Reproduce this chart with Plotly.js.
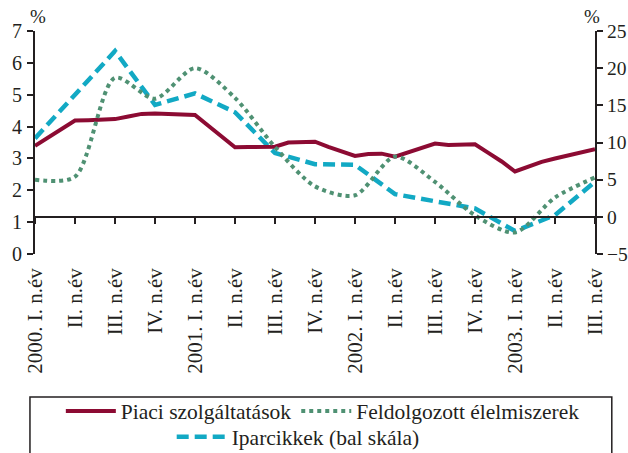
<!DOCTYPE html>
<html>
<head>
<meta charset="utf-8">
<script src="https://cdn.plot.ly/plotly-3.0.1.min.js"></script>
<style>html,body{margin:0;padding:0;background:#fff;}#chart{width:628px;height:453px;}</style>
</head>
<body>
<div id="chart"></div>
<script>
// Quarter tick labels (x axis)
var quarterLabels = ["2000. I. n.év","II. n.év","III. n.év","IV. n.év","2001. I. n.év","II. n.év","III. n.év","IV. n.év","2002. I. n.év","II. n.év","III. n.év","IV. n.év","2003. I. n.év","II. n.év","III. n.év"];
// Piaci szolgáltatások – monthly, right scale (%)
var piaci = [9.56,10.7,11.9,12.95,13.0,13.05,13.15,13.5,13.85,13.9,13.85,13.8,13.7,12.25,10.8,9.35,9.38,9.4,9.43,10.0,10.05,10.1,9.4,8.8,8.2,8.45,8.5,8.1,8.7,9.3,9.85,9.65,9.7,9.75,8.6,7.45,6.1,6.8,7.4,7.85,8.3,8.7,9.1];
// Feldolgozott élelmiszerek – quarterly, right scale (%)
var feldolgozott = [5.0,5.4,18.7,15.9,20.0,16.0,9.4,4.1,2.9,8.1,4.7,0.2,-2.1,2.6,5.3];
// Iparcikkek – quarterly, left scale (%)
var iparcikkek = [3.63,5.0,6.37,4.68,5.04,4.45,3.17,2.82,2.8,1.88,1.67,1.43,0.72,1.22,2.27];

var monthsX = piaci.map(function(_, i){ return i; });
var quarterX = quarterLabels.map(function(_, i){ return i * 3; });

var FONT = "'Liberation Serif', 'Times New Roman', Times, 'DejaVu Serif', serif";
var AX = "#231f20";

var traces = [
  {x: quarterX, y: iparcikkek, name: "Iparcikkek (bal skála)", type: "scatter", mode: "lines",
   yaxis: "y", legend: "legend2",
   line: {color: "#12a9c4", width: 4.5, dash: "12px,6px"}},
  {x: monthsX, y: piaci, name: "Piaci szolgáltatások", type: "scatter", mode: "lines",
   yaxis: "y2", legend: "legend",
   line: {color: "#8c0b33", width: 4}},
  {x: quarterX, y: feldolgozott, name: "Feldolgozott élelmiszerek", type: "scatter", mode: "lines",
   yaxis: "y2", legend: "legend",
   line: {color: "#4f9173", width: 4, dash: "dot", shape: "spline", smoothing: 0.8}}
];

var layout = {
  width: 628, height: 453,
  margin: {l: 35, r: 33, t: 31, b: 199, pad: 0, autoexpand: false},
  paper_bgcolor: "#fff", plot_bgcolor: "#fff",
  font: {family: FONT, size: 21, color: AX},
  showlegend: true,
  xaxis: {
    range: [0, 42], tickvals: quarterX, ticktext: quarterLabels,
    tickangle: -90, ticks: "outside", ticklen: 6, tickwidth: 2, tickcolor: AX,
    showline: true, linecolor: AX, linewidth: 2, showgrid: false, zeroline: false,
    anchor: "free", position: 1.1666667/7, ticklabelstandoff: 36,
    tickfont: {family: FONT, size: 21, color: AX}
  },
  yaxis: {
    range: [0, 7], dtick: 1, tick0: 0, ticks: "outside", ticklen: 6, tickwidth: 2, tickcolor: AX,
    showline: true, linecolor: AX, linewidth: 2, showgrid: false, zeroline: false,
    tickfont: {family: FONT, size: 20, color: AX}, ticklabelstandoff: 1
  },
  yaxis2: {
    range: [-5, 25], dtick: 5, tick0: 0, overlaying: "y", side: "right",
    ticks: "outside", ticklen: 6, tickwidth: 2, tickcolor: AX,
    showline: true, linecolor: AX, linewidth: 2, showgrid: false, zeroline: false,
    tickfont: {family: FONT, size: 19.5, color: AX}, ticklabelstandoff: 0
  },
  legend: {
    orientation: "h", x: 0.514, xanchor: "center", y: -0.612, yanchor: "top",
    font: {family: FONT, size: 21.5, color: AX}, itemwidth: 50,
    bgcolor: "rgba(0,0,0,0)", borderwidth: 0, tracegroupgap: 0
  },
  legend2: {
    orientation: "h", x: 0.47, xanchor: "center", y: -0.728, yanchor: "top",
    font: {family: FONT, size: 21.5, color: AX}, itemwidth: 50,
    bgcolor: "rgba(0,0,0,0)", borderwidth: 0
  },
  shapes: [
    {type: "rect", xref: "paper", yref: "paper", x0: -0.009, x1: 1.03, y0: -0.641, y1: -0.99,
     line: {color: AX, width: 1.5}, fillcolor: "rgba(0,0,0,0)", layer: "below"}
  ],
  annotations: [
    {text: "%", xref: "paper", yref: "paper", x: 0.005, y: 1.065, showarrow: false,
     xanchor: "center", yanchor: "middle", font: {family: FONT, size: 19, color: AX}},
    {text: "%", xref: "paper", yref: "paper", x: 0.995, y: 1.065, showarrow: false,
     xanchor: "center", yanchor: "middle", font: {family: FONT, size: 19, color: AX}}
  ]
};

Plotly.newPlot("chart", traces, layout, {displayModeBar: false, staticPlot: true});
</script>
</body>
</html>
